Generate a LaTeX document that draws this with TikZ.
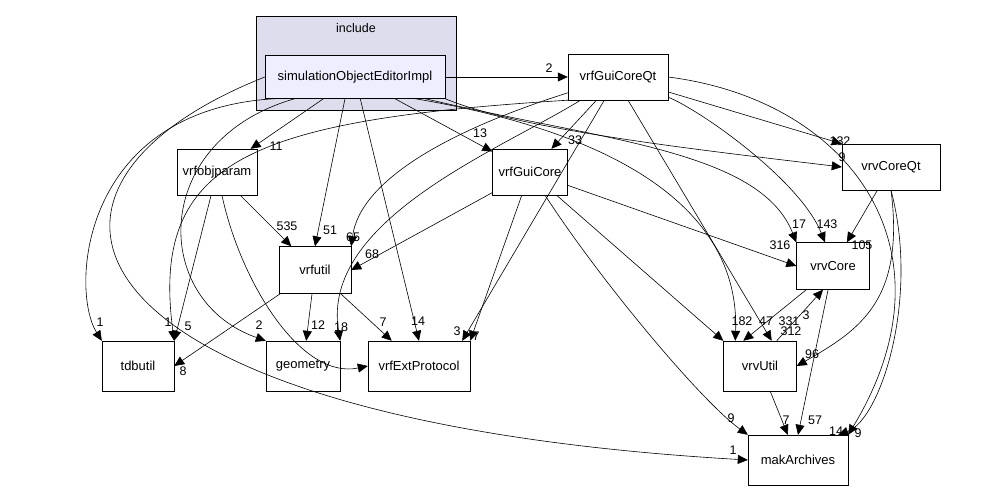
\documentclass[tikz,border=0pt]{standalone}
\usepackage{fontspec}
\setmainfont{Liberation Sans}
\usetikzlibrary{arrows.meta}
\begin{document}
\begin{tikzpicture}[x=1pt,y=-1pt,
 box/.style={draw,fill=white,minimum width=#1,minimum height=46,font=\fontsize{13}{15}\selectfont,inner sep=0},
 arr/.style={-{Triangle[length=10,width=9]},line width=0.6},
 lb/.style={font=\fontsize{12.5}{14}\selectfont,inner sep=0}]
\useasboundingbox (0,0) rectangle (989,492);
\node[draw,fill={rgb,255:red,221;green,221;blue,238},minimum width=200,minimum height=94,inner sep=0] (cl) at (356,63) {};
\node[lb] (incl) at (356,28) {include};
\node[box=180,minimum height=43,fill={rgb,255:red,238;green,238;blue,255}] (sim) at (355,77) {simulationObjectEditorImpl};
\node[box=100] (gcq) at (618,77) {vrfGuiCoreQt};
\node[box=80] (obj) at (217,172) {vrfobjparam};
\node[box=75] (gc) at (530,172) {vrfGuiCore};
\node[box=98] (vcq) at (891,167) {vrvCoreQt};
\node[box=72,minimum height=47] (fu) at (315,270) {vrfutil};
\node[box=73,minimum height=47] (vc) at (833,266) {vrvCore};
\node[box=72,minimum height=50] (tdb) at (138,366) {tdbutil};
\node[box=74,minimum height=50] (geo) at (303,366) {geometry};
\node[box=102,minimum height=50] (ext) at (419,366) {vrfExtProtocol};
\node[box=73,minimum height=50] (vu) at (760,366) {vrvUtil};
\node[box=100,minimum height=50] (mak) at (798,460) {makArchives};
% from sim
\draw[arr] (sim) -- (gcq);
\draw[arr] (sim) -- (obj);
\draw[arr] (sim) -- (gc);
\draw[arr] (sim.south) ++(-10,0) coordinate (s1) (s1) -- (fu.north);
\draw[arr] (sim) -- (ext.north);
\draw[arr] (sim.south west) ++(10,0) coordinate (s2) (s2) .. controls (80,110) and (70,290) .. (tdb.north west);
\draw[arr] (sim.south west) ++(30,0) coordinate (s3) (s3) .. controls (150,140) and (150,300) .. (geo.north west);
\draw[arr] (sim.west) .. controls (-20,190) and (60,420) .. (mak.west);
\draw[arr] (sim.south east) .. controls (520,130) and (700,150) .. (vcq.west);
\draw[arr] (sim.south east) ++(-20,0) coordinate (s4) (s4) .. controls (600,140) and (760,150) .. (vc.north west);
\draw[arr] (sim.south east) ++(-30,0) coordinate (s5) (s5) .. controls (600,130) and (740,200) .. ([xshift=12]vu.north west);
% from gcq
\draw[arr] (gcq) -- (gc);
\draw[arr] (gcq) .. controls (450,130) and (360,180) .. (fu.north east);
\draw[arr] (gcq.south west) .. controls (250,120) and (150,160) .. (tdb.north east);
\draw[arr] (gcq) .. controls (500,150) and (320,220) .. (geo.north east);
\draw[arr] (gcq) -- ([xshift=-8]ext.north east);
\draw[arr] (gcq) -- (vcq.north west);
\draw[arr] (gcq) .. controls (700,110) and (800,180) .. ([xshift=-8]vc.north);
\draw[arr] ([xshift=10]gcq.south) -- ([xshift=-25]vu.north east);
\draw[arr] (gcq.east) .. controls (850,100) and (960,250) .. (mak.north east);
% others
\draw[arr] (obj) -- (fu);
\draw[arr] (obj) -- (tdb.north east);
\draw[arr] (obj) .. controls (240,280) and (300,380) .. (ext.west);
\draw[arr] (gc) -- (fu.east);
\draw[arr] (gc) -- (ext.north east);
\draw[arr] (gc) -- (vc.west);
\draw[arr] (gc) -- (vu.north west);
\draw[arr] (gc) .. controls (600,280) and (700,400) .. (mak.north west);
\draw[arr] (fu) -- (tdb.east);
\draw[arr] (fu) -- (geo);
\draw[arr] (fu) -- (ext);
\draw[arr] (vcq) -- (vc);
\draw[arr] (vcq.south) .. controls (905,300) and (860,330) .. (vu.east);
\draw[arr] (vcq.south) .. controls (920,300) and (880,420) .. ([xshift=-10]mak.north east);
\draw[arr] ([xshift=10]vc.south west) -- ([xshift=20]vu.north west);
\draw[arr] ([xshift=-20]vu.north east) -- ([xshift=-10]vc.south);
\draw[arr] (vc) -- (mak.north);
\draw[arr] (vu) -- (mak);
% labels
\foreach \t/\x/\y in {2/549/68,11/276/146,13/480/133,33/575/140,9/842/157,132/840/141,17/799/224,143/827/224,105/862/245,51/330/230,65/353/237,68/372/254,535/287/226,1/100/322,1/168/322,5/188/326,8/183/371,2/259/325,12/318/325,18/341/327,7/383/322,14/418/321,3/457/331,7/476/336,316/780/245,182/742/321,47/766/321,331/789/321,312/791/331,3/806/315,96/812/354,9/731/418,57/815/420,14/836/431,9/858/433,1/733/450,7/786/420}
 \node[lb] at (\x,\y) {\t};
\end{tikzpicture}
\end{document}
